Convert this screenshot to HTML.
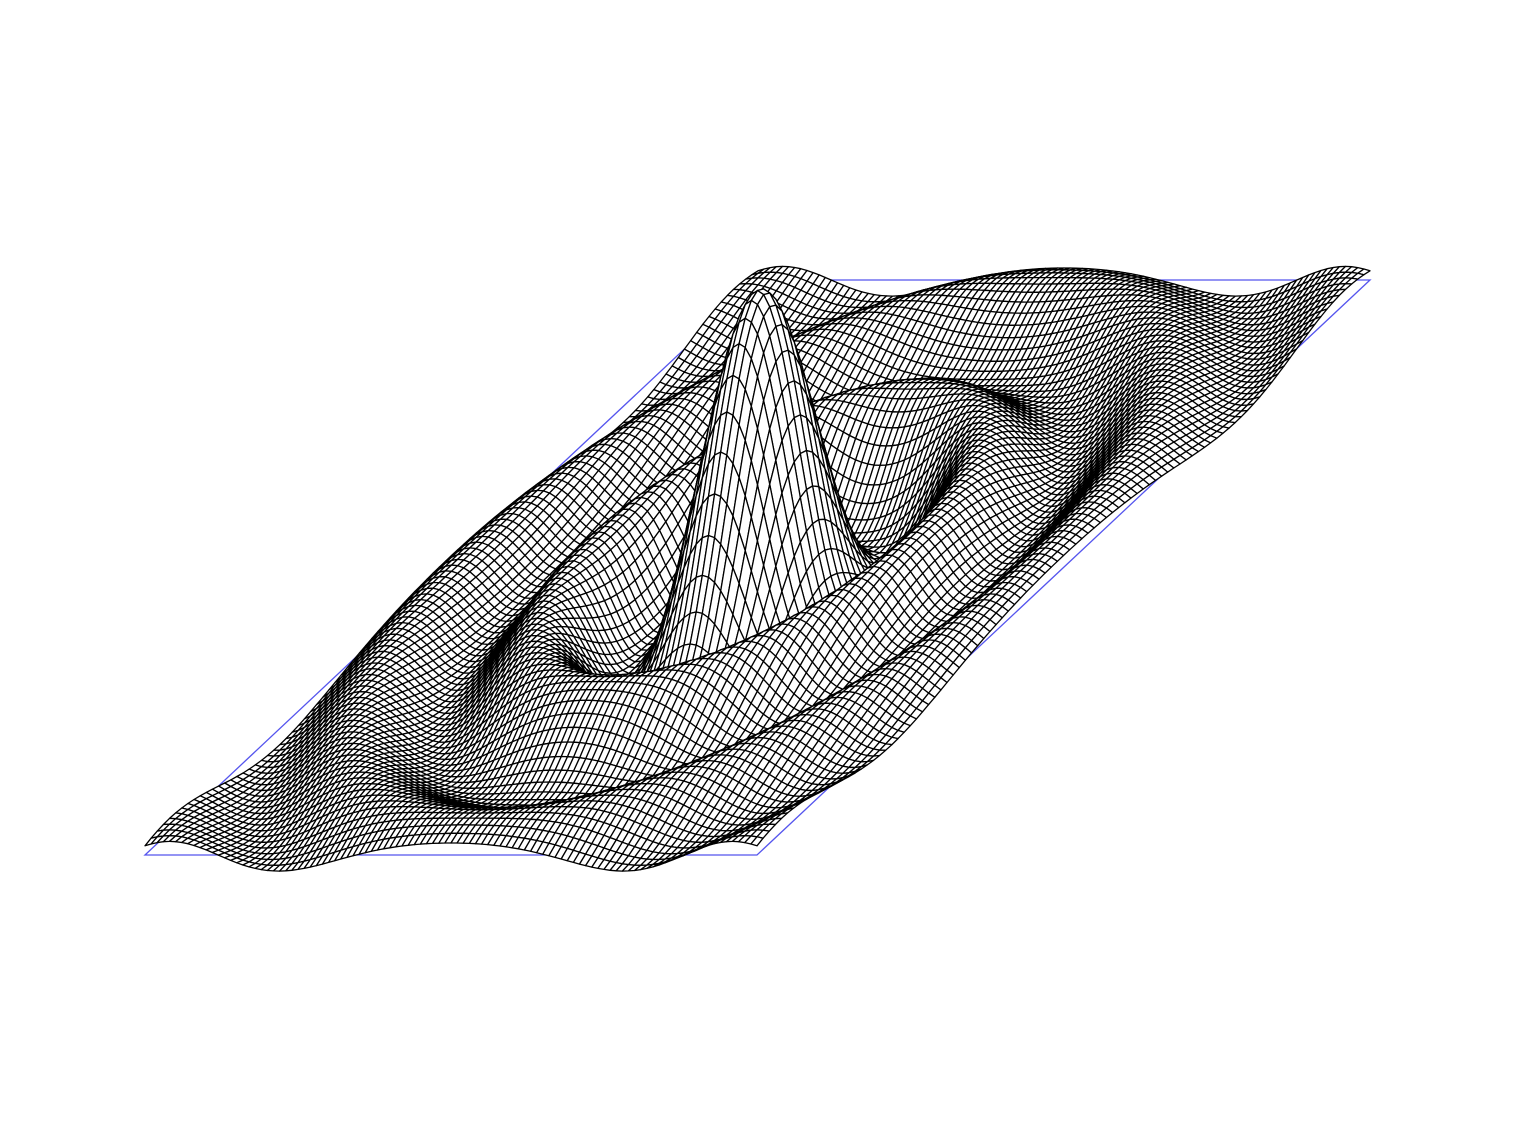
<!DOCTYPE html>
<html><head><meta charset="utf-8">
<style>
html,body{margin:0;padding:0;background:#fff;}
svg{display:block;}
</style></head>
<body>
<svg id="chart" width="1515" height="1130" viewBox="0 0 1515 1130" xmlns="http://www.w3.org/2000/svg">
  <polygon points="145,855 757,855 1370,280 758,280" fill="none" stroke="#5555ee" stroke-width="1.3"/>
  <g id="mesh"></g>
</svg>
<script>
// Domain and sampling of the surface z = sin(r)/r
const xRange = [-15, 15];
const yRange = [-15, 15];
const samples = [100, 100];
const zScale = [277];   // pixels per z unit (peak height)

const BL = [145, 855], BR = [757, 855], TR = [1370, 280];
function sx(u, v) { return BL[0] + u * (BR[0] - BL[0]) + v * (TR[0] - BR[0]); }
function sy(u, v, z) { return BL[1] + v * (TR[1] - BR[1]) - z * zScale[0]; }
function f(x, y) { const r = Math.sqrt(x * x + y * y); return r < 1e-9 ? 1 : Math.sin(r) / r; }

const nx = samples[0], ny = samples[1];
const P = [];
for (let j = 0; j <= ny; j++) {
  const row = [];
  for (let i = 0; i <= nx; i++) {
    const u = i / nx, v = j / ny;
    const x = xRange[0] + u * (xRange[1] - xRange[0]);
    const y = yRange[0] + v * (yRange[1] - yRange[0]);
    row.push([sx(u, v), sy(u, v, f(x, y))]);
  }
  P.push(row);
}
const g = document.getElementById('mesh');
const parts = [];
for (let j = ny - 1; j >= 0; j--) {
  for (let i = 0; i < nx; i++) {
    const a = P[j][i], b = P[j][i + 1], c = P[j + 1][i + 1], e = P[j + 1][i];
    parts.push('<polygon points="' + a[0].toFixed(1) + ',' + a[1].toFixed(1) + ' ' + b[0].toFixed(1) + ',' + b[1].toFixed(1) + ' ' + c[0].toFixed(1) + ',' + c[1].toFixed(1) + ' ' + e[0].toFixed(1) + ',' + e[1].toFixed(1) + '"/>');
  }
}
g.setAttribute('fill', '#ffffff');
g.setAttribute('stroke', '#000000');
g.setAttribute('stroke-width', '1.3');
g.setAttribute('stroke-linejoin', 'round');
g.innerHTML = parts.join('');
</script>
</body></html>
